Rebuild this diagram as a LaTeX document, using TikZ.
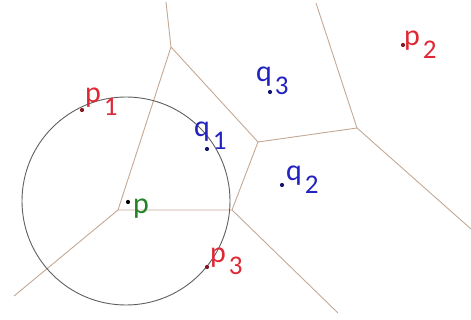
\documentclass[tikz,border=0pt]{standalone}
\usepackage{fontspec}
\setmainfont{Carlito}
\usetikzlibrary{positioning}
\definecolor{vorline}{RGB}{196,168,148}
\definecolor{circline}{RGB}{95,95,95}
\definecolor{ptred}{RGB}{222,40,52}
\definecolor{ptblue}{RGB}{34,34,190}
\definecolor{ptgreen}{RGB}{34,130,40}
\newcommand{\sublbl}[2]{#1\kern3pt\raisebox{-13pt}{\fontsize{27}{27}\selectfont #2}}

\begin{document}
\begin{tikzpicture}[x=1pt, y=-1pt,
  edge/.style={draw=vorline, line width=0.9pt},
  ring/.style={draw=circline, line width=0.9pt},
  site/.style={circle, fill=black, inner sep=0pt, minimum size=4.2pt},
  lbl/.style={anchor=base west, inner sep=0pt, font=\fontsize{30}{30}\selectfont}
]
\useasboundingbox (0,0) rectangle (471,320);
% voronoi vertices and open ends
\coordinate (va) at (171,47);
\coordinate (vv) at (118,210);
\coordinate (vb) at (232,210);
\coordinate (vc) at (258,142);
\coordinate (vd) at (357,128);
\coordinate (ea) at (166,2);
\coordinate (ev) at (14,296);
\coordinate (eb) at (338,313);
\coordinate (ed1) at (316,3);
\coordinate (ed2) at (471,229);
\draw[edge] (ea) -- (va) -- (vv) -- (vb) -- (vc) -- (va);
\draw[edge] (vv) -- (ev);
\draw[edge] (vb) -- (eb);
\draw[edge] (vc) -- (vd) -- (ed1);
\draw[edge] (vd) -- (ed2);
% circle round p
\node[site] (p) at (128,202) {};
\draw[ring] (126,201) circle[radius=104];
% sites
\node[site, fill=ptred!60!black] (p1) at (82,110) {};
\node[site, fill=ptred!60!black] (p2) at (403,45) {};
\node[site, fill=ptred!60!black] (p3) at (207,267) {};
\node[site, fill=ptblue!60!black] (q1) at (207,149) {};
\node[site, fill=ptblue!60!black] (q2) at (282,185) {};
\node[site, fill=ptblue!60!black] (q3) at (270,92) {};
% labels
\node[lbl, text=ptgreen] (lp) at (133,214) {p};
\node[lbl, text=ptred] (lp1) at (85,103) {\sublbl{p}{1}};
\node[lbl, text=ptred] (lp2) at (404,46) {\sublbl{p}{2}};
\node[lbl, text=ptred] (lp3) at (210,262) {\sublbl{p}{3}};
\node[lbl, text=ptblue] (lq1) at (194,137) {\sublbl{q}{1}};
\node[lbl, text=ptblue] (lq2) at (286,181) {\sublbl{q}{2}};
\node[lbl, text=ptblue] (lq3) at (256,82) {\sublbl{q}{3}};
\end{tikzpicture}
\end{document}
